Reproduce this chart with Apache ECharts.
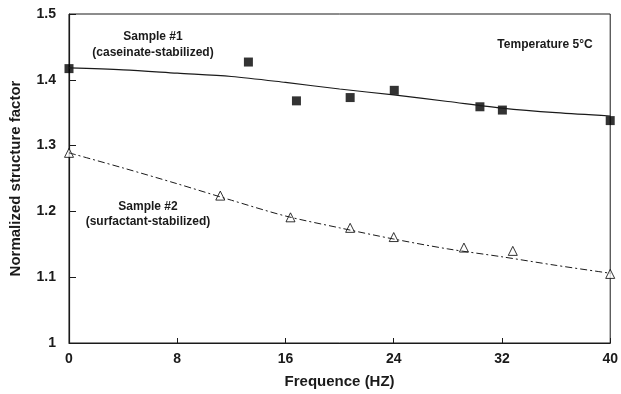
<!DOCTYPE html>
<html>
<head>
<meta charset="utf-8">
<script src="https://cdn.jsdelivr.net/npm/echarts@6/dist/echarts.min.js"></script>
<style>
  html, body { margin: 0; padding: 0; background: #fff; }
  #chart { width: 621px; height: 394px; }
</style>
</head>
<body>
<div id="chart"></div>
<script>
// measured points
const sample1X = [0, 13.26, 16.81, 20.78, 24.04, 30.37, 32.03, 40];
const sample1Y = [1.417, 1.427, 1.368, 1.373, 1.384, 1.359, 1.354, 1.338];
const sample2X = [0, 11.18, 16.37, 20.78, 24.0, 29.19, 32.8, 40];
const sample2Y = [1.289, 1.224, 1.191, 1.175, 1.161, 1.145, 1.14, 1.105];

// fitted curves
const curveX = [0, 4, 8, 12, 16, 20, 24, 28, 32, 36, 40];
const curve1Y = [1.418, 1.415, 1.41, 1.405, 1.396, 1.386, 1.377, 1.367, 1.357, 1.35, 1.345];
const curve2Y = [1.289, 1.266, 1.242, 1.217, 1.193, 1.175, 1.158, 1.143, 1.131, 1.118, 1.106];

const xTicks = [0, 8, 16, 24, 32, 40];
const yTicks = [1, 1.1, 1.2, 1.3, 1.4, 1.5];

const zip = (xs, ys) => xs.map((x, i) => [x, ys[i]]);

const font = "'Liberation Sans', Arial, sans-serif";
const ink = "#1a1a1a";

const label = (text, x, y) => ({
  type: "text", x, y,
  style: { text, font: "bold 12px " + font, fill: ink, align: "center", verticalAlign: "middle" },
});

const chart = echarts.init(document.getElementById("chart"));
chart.setOption({
  animation: false,
  backgroundColor: "#fff",
  grid: {
    left: 68, right: 9, top: 14, bottom: 48,
    show: true, borderColor: ink, borderWidth: 1,
  },
  xAxis: {
    type: "value",
    min: xTicks[0], max: xTicks[xTicks.length - 1], interval: 8,
    name: "Frequence (HZ)",
    nameLocation: "middle",
    nameGap: 31,
    nameTextStyle: { fontFamily: font, fontWeight: "bold", fontSize: 15, color: ink },
    axisLine: { lineStyle: { color: ink, width: 1.2 } },
    axisTick: { inside: true, length: 5, lineStyle: { color: ink } },
    axisLabel: { fontFamily: font, fontWeight: "bold", fontSize: 14, color: ink, margin: 9 },
    splitLine: { show: false },
  },
  yAxis: {
    type: "value",
    min: yTicks[0], max: yTicks[yTicks.length - 1], interval: 0.1,
    name: "Normalized structure factor",
    nameLocation: "middle",
    nameGap: 46,
    nameTextStyle: { fontFamily: font, fontWeight: "bold", fontSize: 15, color: ink },
    axisLine: { lineStyle: { color: ink, width: 1.2 } },
    axisTick: { inside: true, length: 7, lineStyle: { color: ink } },
    axisLabel: { fontFamily: font, fontWeight: "bold", fontSize: 14, color: ink, margin: 13 },
    splitLine: { show: false },
  },
  graphic: [
    label("Sample #1", 153, 37),
    label("(caseinate-stabilized)", 153, 53),
    label("Sample #2", 148, 207),
    label("(surfactant-stabilized)", 148, 222),
    label("Temperature 5°C", 545, 45),
  ],
  series: [
    {
      type: "line",
      data: zip(curveX, curve1Y),
      smooth: 0.3,
      showSymbol: false,
      lineStyle: { color: ink, width: 1.2 },
    },
    {
      type: "line",
      data: zip(curveX, curve2Y),
      smooth: 0.3,
      showSymbol: false,
      lineStyle: { color: ink, width: 1, type: [7, 3, 2, 3] },
    },
    {
      type: "scatter",
      data: zip(sample1X, sample1Y),
      symbol: "rect",
      symbolSize: 9,
      itemStyle: { color: "#000" },
    },
    {
      type: "scatter",
      data: zip(sample2X, sample2Y),
      symbol: "triangle",
      symbolSize: 9,
      itemStyle: { color: "#fff", borderColor: "#000", borderWidth: 1 },
    },
  ],
});
</script>
</body>
</html>
